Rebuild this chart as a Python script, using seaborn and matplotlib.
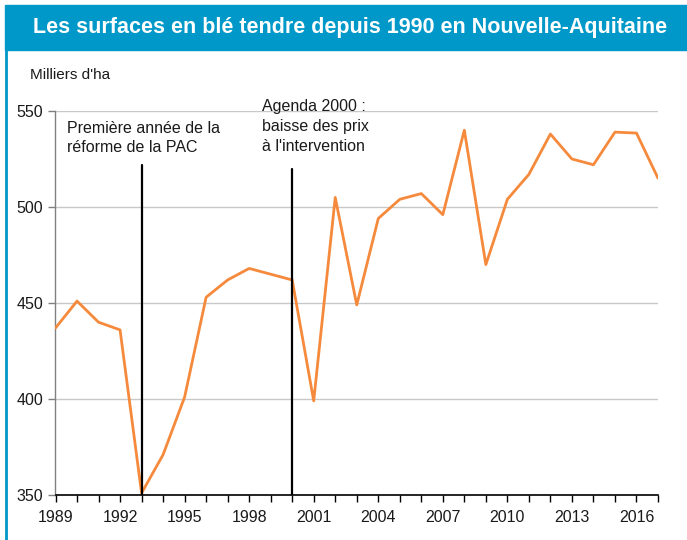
import numpy as np
import pandas as pd
import matplotlib
matplotlib.use("Agg")
import matplotlib.pyplot as plt
import seaborn as sns
from matplotlib.patches import Rectangle
from matplotlib.lines import Line2D

# Data: soft wheat areas in Nouvelle-Aquitaine (thousand ha)
years = list(range(1989, 2018))
surfaces = [437, 451, 440, 436, 351, 371, 401, 453, 462, 468, 465, 462,
            399, 505, 449, 494, 504, 507, 496, 540, 470, 504, 517, 538,
            525, 522, 539, 538.5, 515]
tick_years = [1989, 1992, 1995, 1998, 2001, 2004, 2007, 2010, 2013, 2016]
y_ticks = [350, 400, 450, 500, 550]
events = [(1993, 522, "Première année de la\nréforme de la PAC"),
          (2000, 520, "Agenda 2000 :\nbaisse des prix\nà l'intervention")]

df = pd.DataFrame({"annee": years, "surface": surfaces})

sns.set_theme(style="white")
plt.rcParams['font.family'] = ['Liberation Sans', 'DejaVu Sans']

BLUE = "#0098C8"
ORANGE = "#F58A3C"

fig = plt.figure(figsize=(6.87, 5.40), dpi=100)
ax = fig.add_axes([55.5 / 687, 1 - 495 / 540, (658 - 55.5) / 687, (495 - 111) / 540])

# title banner and left rule
fig.patches.append(Rectangle((5 / 687, 1 - 50 / 540), 682 / 687, 45 / 540,
                             transform=fig.transFigure, color=BLUE, zorder=0))
fig.lines.append(Line2D([6 / 687, 6 / 687], [0, 1 - 50 / 540], transform=fig.transFigure,
                        color=BLUE, lw=2))
fig.text(350 / 687, 1 - 28 / 540, "Les surfaces en blé tendre depuis 1990 en Nouvelle-Aquitaine",
         color="white", fontsize=15.5, fontweight="bold", ha="center", va="center")
fig.text(30 / 687, 1 - 75 / 540, "Milliers d'ha", fontsize=11, ha="left", va="center",
         color="#1a1a1a")

sns.lineplot(data=df, x="annee", y="surface", color=ORANGE, lw=2, ax=ax, zorder=3)

for yr, top, label in events:
    ax.plot([yr, yr], [350, top], color="black", lw=1.6, zorder=4)

ax.text(1989.55, 545, events[0][2], fontsize=11.5, ha="left", va="top",
        color="#1a1a1a", linespacing=1.4)
ax.text(1998.6, 556, events[1][2], fontsize=11.5, ha="left", va="top",
        color="#1a1a1a", linespacing=1.4, clip_on=False)

ax.set_xlim(1989, 2017)
ax.set_ylim(350, 550)
ax.set_xticks(years, minor=True)
ax.set_xticks(tick_years)
ax.set_xticklabels([str(y) for y in tick_years])
ax.set_yticks(y_ticks)
ax.set_xlabel("")
ax.set_ylabel("")
ax.yaxis.grid(True, color="#c8c8c8", lw=1)
ax.set_axisbelow(True)

for side in ["top", "right"]:
    ax.spines[side].set_visible(False)
ax.spines["left"].set_color("#808080")
ax.spines["bottom"].set_color("black")
ax.spines["left"].set_linewidth(1)
ax.spines["bottom"].set_linewidth(1.2)

ax.tick_params(axis="x", which="both", direction="out", length=5, width=1, color="black",
               labelsize=11.5, pad=6, bottom=True)
ax.tick_params(axis="y", direction="out", length=5, width=1, color="#808080",
               labelsize=11.5, pad=4, left=True)
for lab in ax.get_xticklabels() + ax.get_yticklabels():
    lab.set_color("#1a1a1a")

fig.savefig("out.png", dpi=100)
